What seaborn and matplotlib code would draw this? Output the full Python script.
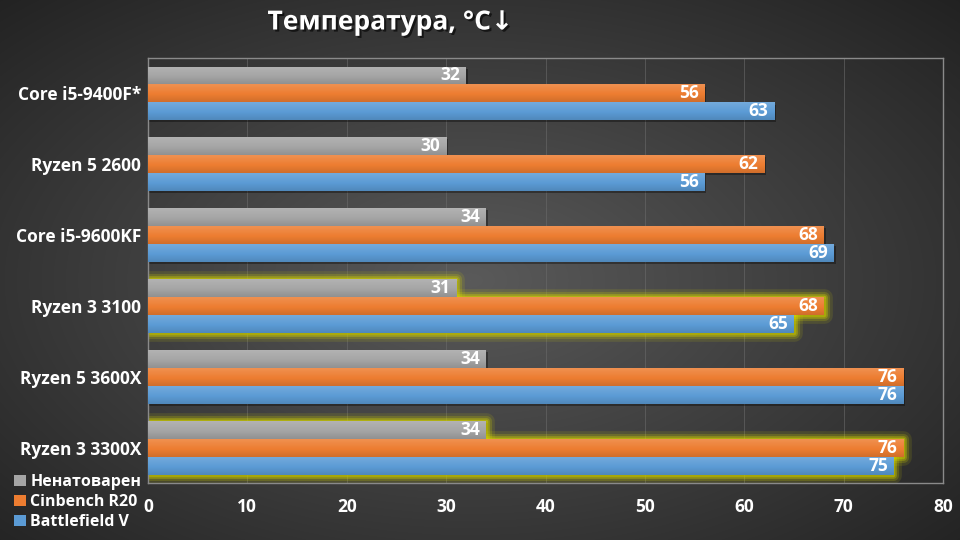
import numpy as np
import pandas as pd
import matplotlib
matplotlib.use("Agg")
import matplotlib.pyplot as plt
import matplotlib.patheffects as pe
from matplotlib.patches import Rectangle, Patch
from matplotlib.colors import to_rgb
import seaborn as sns

categories = ["Core i5-9400F*", "Ryzen 5 2600", "Core i5-9600KF",
              "Ryzen 3 3100", "Ryzen 5 3600X", "Ryzen 3 3300X"]
series = ["Ненатоварен", "Cinbench R20", "Battlefield V"]
idle = [32, 30, 34, 31, 34, 34]
cinebench = [56, 62, 68, 68, 76, 76]
battlefield = [63, 56, 69, 65, 76, 75]
highlighted = ["Ryzen 3 3100", "Ryzen 3 3300X"]
xticks = [0, 10, 20, 30, 40, 50, 60, 70, 80]
title = "Температура, °C↓"

colors = ["#a5a5a5", "#ed7d31", "#5b9bd5"]

sns.set_theme(style="white")
plt.rcParams["font.family"] = ["Open Sans", "DejaVu Sans"]

df = pd.DataFrame({
    "cpu": categories * 3,
    "series": [series[0]] * 6 + [series[1]] * 6 + [series[2]] * 6,
    "value": idle + cinebench + battlefield,
})

fig = plt.figure(figsize=(9.6, 5.4), dpi=100)

# background radial gradient
bg = fig.add_axes([0, 0, 1, 1], zorder=-10)
yy, xx = np.mgrid[0:540, 0:960]
r = np.sqrt(((xx - 470) / 520.0) ** 2 + ((yy - 280) / 300.0) ** 2) / np.sqrt(2)
v = np.clip(90 - 60 * r, 30, 95) / 255.0
bg.imshow(np.dstack([v, v, v]), aspect="auto", extent=(0, 1, 0, 1))
bg.set_axis_off()

ax = fig.add_axes([148 / 960, 1 - 483 / 540, (943 - 148) / 960, (483 - 58) / 540])
ax.set_facecolor("none")

sns.barplot(data=df, y="cpu", x="value", hue="series", orient="h",
            palette=colors, width=0.76, dodge=True, legend=False,
            saturation=1, linewidth=0, edgecolor="none", ax=ax, zorder=3)

ax.set_xlim(0, 80)
ylim = ax.get_ylim()

def shade(c, f):
    rgb = np.array(to_rgb(c))
    if f > 0:
        return rgb + (1 - rgb) * f
    return rgb * (1 + f)

for ci, cont in enumerate(ax.containers):
    col = colors[ci]
    grad = np.array([shade(col, 0.15 - 0.27 * t) for t in np.linspace(0, 1, 32)])[:, None, :]
    for bar, val, cat in zip(cont.patches, cont.datavalues, categories):
        bar.set_linewidth(0)
        x0, y0 = bar.get_x(), bar.get_y()
        w, h = bar.get_width(), bar.get_height()
        # shadow
        ax.add_patch(Rectangle((x0, y0 + 0.03), w + 0.2, h, facecolor="black",
                               alpha=0.35, edgecolor="none", zorder=2))
        # glow for highlighted
        if cat in highlighted:
            for lw, a in [(12, 0.12), (8, 0.2), (5, 0.3), (2.5, 0.45)]:
                ax.add_patch(Rectangle((x0, y0), w, h, facecolor="none",
                                       edgecolor="#d8d800", lw=lw, alpha=a,
                                       zorder=2.5, joinstyle="round"))
        im = ax.imshow(grad, aspect="auto", extent=(x0, x0 + w, y0 + h, y0),
                       zorder=3.5, interpolation="bilinear")
        im.set_clip_path(bar)
        ax.annotate(f"{val:g}", xy=(x0 + w, y0 + h / 2), xytext=(-4, 0),
                    textcoords="offset points", ha="right", va="center",
                    color="white", fontsize=12.5, fontweight="bold", zorder=5)

ax.set_xlim(0, 80)
ax.set_ylim(ylim)
ax.set_xticks(xticks)
ax.set_xticklabels([str(t) for t in xticks])
ax.set_xlabel("")
ax.set_ylabel("")
ax.tick_params(axis="x", length=0, pad=11, labelsize=12.5, labelcolor="white")
ax.tick_params(axis="y", length=0, pad=5, labelsize=12.5, labelcolor="white")
for lab in ax.get_xticklabels() + ax.get_yticklabels():
    lab.set_fontweight("bold")
ax.grid(axis="x", color="#6a6a6a", lw=0.7, alpha=0.6, zorder=0)
ax.grid(axis="y", visible=False)
for s in ax.spines.values():
    s.set_visible(True)
    s.set_color("#8a8a8a")
    s.set_linewidth(1.0)

fig.text(390 / 960, 1 - 22 / 540, title, ha="center", va="center",
         color="white", fontsize=19, fontweight="bold",
         path_effects=[pe.withSimplePatchShadow(offset=(1.5, -1.5), shadow_rgbFace="black", alpha=0.6)])

handles = [Patch(facecolor=c, edgecolor="none") for c in colors]
leg = fig.legend(handles, series, loc="lower left", bbox_to_anchor=(0.0, -0.008),
                 frameon=False, handlelength=0.7, handleheight=0.7,
                 handletextpad=0.3, labelspacing=0.25,
                 prop={"weight": "bold", "size": 11.5})
for t in leg.get_texts():
    t.set_color("white")

fig.savefig("out.png", dpi=100)
